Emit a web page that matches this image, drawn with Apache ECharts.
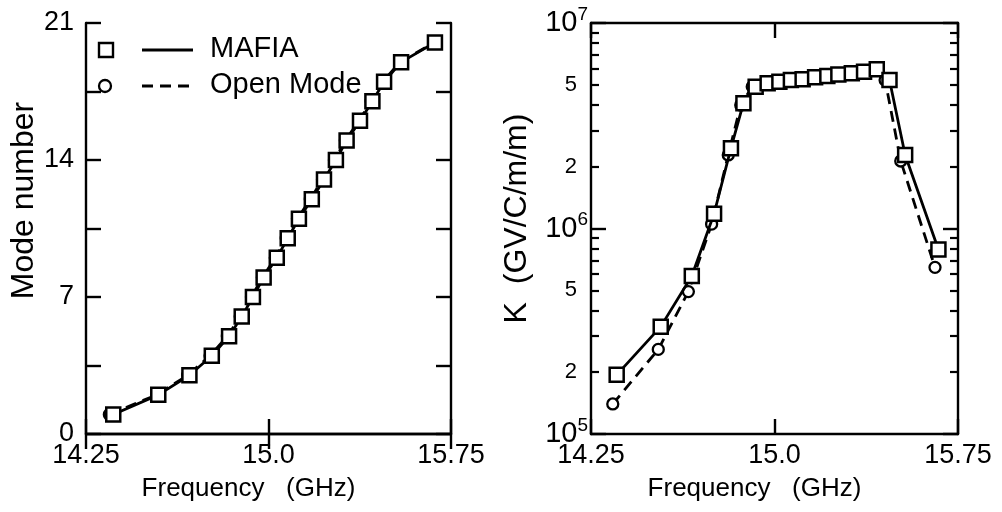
<!DOCTYPE html>
<html>
<head>
<meta charset="utf-8">
<script src="https://cdn.jsdelivr.net/npm/echarts@6/dist/echarts.min.js"></script>
<style>
html,body{margin:0;padding:0;background:#fff;}
#chart{width:1002px;height:512px;}
</style>
</head>
<body>
<div id="chart"></div>
<script>
// ---- Data ----
var modeNumbers = [1,2,3,4,5,6,7,8,9,10,11,12,13,14,15,16,17,18,19,20];
var freqModeMafia = [14.362,14.547,14.675,14.767,14.838,14.890,14.936,14.980,15.034,15.079,15.125,15.178,15.228,15.277,15.321,15.376,15.427,15.475,15.545,15.684];
var freqModeOpen  = [14.346,14.540,14.668,14.760,14.831,14.884,14.930,14.975,15.028,15.073,15.119,15.172,15.222,15.271,15.316,15.371,15.422,15.470,15.540,15.680];

var freqKMafia = [14.355,14.535,14.662,14.753,14.822,14.873,14.923,14.972,15.020,15.067,15.115,15.166,15.216,15.261,15.316,15.366,15.418,15.470,15.534,15.670];
var kMafia = [1.94e5,3.33e5,5.87e5,1.18e6,2.46e6,4.07e6,4.90e6,5.09e6,5.18e6,5.28e6,5.33e6,5.45e6,5.52e6,5.62e6,5.69e6,5.79e6,5.96e6,5.28e6,2.28e6,7.9e5];
var freqKOpen = [14.339,14.525,14.648,14.743,14.811,14.862,14.909,14.962,15.011,15.058,15.106,15.157,15.207,15.253,15.308,15.358,15.410,15.452,15.516,15.656];
var kOpen = [1.40e5,2.58e5,4.93e5,1.05e6,2.28e6,3.99e6,4.90e6,5.08e6,5.16e6,5.26e6,5.32e6,5.43e6,5.50e6,5.60e6,5.67e6,5.77e6,5.94e6,5.28e6,2.13e6,6.47e5];

var freqTicks = [14.25, 15.0, 15.75];
var freqTickLabels = ['14.25', '15.0', '15.75'];
var modeTickLabels = [0, 7, 14, 21];
var kMajorTicks = [1e5, 1e6, 1e7];
var kMinorTicks = [2e5,3e5,4e5,5e5,6e5,7e5,8e5,9e5,2e6,3e6,4e6,5e6,6e6,7e6,8e6,9e6];
var kLabelValues = [1e5, 2e5, 5e5, 1e6, 2e6, 5e6, 1e7];

function zip(a, b) { return a.map(function (v, i) { return [v, b[i]]; }); }

var FONT = '"Liberation Sans", Arial, sans-serif';
var axisLine = { show: true, lineStyle: { color: '#000', width: 2.4 } };

function freqFmt(v) {
  for (var i = 0; i < freqTicks.length; i++) if (Math.abs(v - freqTicks[i]) < 1e-6) return freqTickLabels[i];
  return '';
}

function xAxes(gridIndex) {
  return [
    { type: 'value', gridIndex: gridIndex, position: 'bottom', min: 14.25, max: 15.75, interval: 0.75,
      axisLine: axisLine, splitLine: { show: false },
      axisTick: { inside: true, length: 15, lineStyle: { color: '#000', width: 2.4 } },
      axisLabel: { formatter: freqFmt, fontSize: 27, color: '#000', fontFamily: FONT, margin: 8 },
      name: 'Frequency   (GHz)', nameLocation: 'middle', nameGap: 42,
      nameTextStyle: { fontSize: 26, color: '#000', fontFamily: FONT, padding: [0, 40, 0, 0] } },
    { type: 'value', gridIndex: gridIndex, position: 'top', min: 14.25, max: 15.75, interval: 0.75,
      axisLine: axisLine, splitLine: { show: false },
      axisTick: { inside: true, length: 15, lineStyle: { color: '#000', width: 2.4 } },
      axisLabel: { show: false } }
  ];
}

var square = { symbol: 'rect', symbolSize: 14, itemStyle: { color: '#fff', borderColor: '#000', borderWidth: 2.5 } };
var circle = { symbol: 'circle', symbolSize: 11, itemStyle: { color: '#fff', borderColor: '#000', borderWidth: 2.3 } };

function lineSeries(name, data, xi, yi, dashed, sym, z) {
  return {
    name: name, type: 'line', xAxisIndex: xi, yAxisIndex: yi, data: data,
    symbol: sym.symbol, symbolSize: sym.symbolSize, itemStyle: sym.itemStyle, showSymbol: true,
    lineStyle: { color: '#000', width: 2.8, type: dashed ? [11, 7] : 'solid' },
    animation: false, z: z
  };
}

var chart = echarts.init(document.getElementById('chart'), null, { renderer: 'canvas' });

var option = {
  backgroundColor: '#fff',
  animation: false,
  grid: [
    { left: 86, top: 23, width: 365, height: 411 },
    { left: 591, top: 23, width: 367, height: 411 }
  ],
  xAxis: xAxes(0).concat(xAxes(1)),
  yAxis: [
    // left panel
    { type: 'value', gridIndex: 0, position: 'left', min: 0, max: 21, interval: 3.5,
      axisLine: axisLine, splitLine: { show: false },
      axisTick: { inside: true, length: 15, lineStyle: { color: '#000', width: 2.4 } },
      axisLabel: { fontSize: 27, color: '#000', fontFamily: FONT, margin: 12,
        formatter: function (v) { return modeTickLabels.indexOf(v) >= 0 ? String(v) : ''; } },
      name: 'Mode number', nameLocation: 'middle', nameGap: 42, nameRotate: 90,
      nameTextStyle: { fontSize: 32, color: '#000', fontFamily: FONT, padding: [0, 0, 0, 56] } },
    { type: 'value', gridIndex: 0, position: 'right', min: 0, max: 21, interval: 3.5,
      axisLine: axisLine, splitLine: { show: false },
      axisTick: { inside: true, length: 15, lineStyle: { color: '#000', width: 2.4 } },
      axisLabel: { show: false } },
    // right panel: major ticks + labels
    { type: 'log', logBase: 10, gridIndex: 1, position: 'left', min: 1e5, max: 1e7,
      axisLine: axisLine, splitLine: { show: false },
      axisTick: { inside: true, length: 15, customValues: kMajorTicks, lineStyle: { color: '#000', width: 2.4 } },
      axisLabel: { customValues: kLabelValues, color: '#000', fontFamily: FONT, margin: 3,
        formatter: function (v) {
          var e = Math.round(Math.log10(v));
          if (Math.abs(v - Math.pow(10, e)) < 1) return '{b|10}{s|' + e + '}';
          return '{m|' + Math.round(v / Math.pow(10, Math.floor(Math.log10(v)))) + '}';
        },
        rich: {
          b: { fontSize: 29, fontFamily: FONT, color: '#000' },
          s: { fontSize: 19, fontFamily: FONT, color: '#000', padding: [0, 0, 17, 0] },
          m: { fontSize: 22, fontFamily: FONT, color: '#000', padding: [0, 11, 0, 0] }
        } },
      name: 'K  (GV/C/m/m)', nameLocation: 'middle', nameGap: 58, nameRotate: 90,
      nameTextStyle: { fontSize: 32, color: '#000', fontFamily: FONT, padding: [0, 0, 0, 20] } },
    // right panel: minor ticks left
    { type: 'log', logBase: 10, gridIndex: 1, position: 'left', min: 1e5, max: 1e7,
      axisLine: { show: false }, splitLine: { show: false },
      axisTick: { inside: true, length: 8, customValues: kMinorTicks, lineStyle: { color: '#000', width: 2.2 } },
      axisLabel: { show: false } },
    // right side mirrored ticks
    { type: 'log', logBase: 10, gridIndex: 1, position: 'right', min: 1e5, max: 1e7,
      axisLine: axisLine, splitLine: { show: false },
      axisTick: { inside: true, length: 15, customValues: kMajorTicks, lineStyle: { color: '#000', width: 2.4 } },
      axisLabel: { show: false } },
    { type: 'log', logBase: 10, gridIndex: 1, position: 'right', min: 1e5, max: 1e7,
      axisLine: { show: false }, splitLine: { show: false },
      axisTick: { inside: true, length: 8, customValues: kMinorTicks, lineStyle: { color: '#000', width: 2.2 } },
      axisLabel: { show: false } }
  ],
  series: [
    lineSeries('Open Mode', zip(freqModeOpen, modeNumbers), 0, 0, true, circle, 2),
    lineSeries('MAFIA', zip(freqModeMafia, modeNumbers), 0, 0, false, square, 3),
    lineSeries('Open Mode', zip(freqKOpen, kOpen), 2, 2, true, circle, 2),
    lineSeries('MAFIA', zip(freqKMafia, kMafia), 2, 2, false, square, 3)
  ],
  graphic: [
    { type: 'rect', shape: { x: 99, y: 43, width: 14, height: 14 }, style: { fill: '#fff', stroke: '#000', lineWidth: 2.4 } },
    { type: 'line', shape: { x1: 142, y1: 50, x2: 193, y2: 50 }, style: { stroke: '#000', lineWidth: 2.8 } },
    { type: 'text', left: 210, top: 34, style: { text: 'MAFIA', fontSize: 29, fontFamily: FONT, fill: '#000' } },
    { type: 'circle', shape: { cx: 105, cy: 86, r: 6 }, style: { fill: '#fff', stroke: '#000', lineWidth: 2.3 } },
    { type: 'line', shape: { x1: 142, y1: 86, x2: 193, y2: 86 }, style: { stroke: '#000', lineWidth: 2.8, lineDash: [11, 7] } },
    { type: 'text', left: 210, top: 70, style: { text: 'Open Mode', fontSize: 29, fontFamily: FONT, fill: '#000' } }
  ]
};
chart.setOption(option);
</script>
</body>
</html>
